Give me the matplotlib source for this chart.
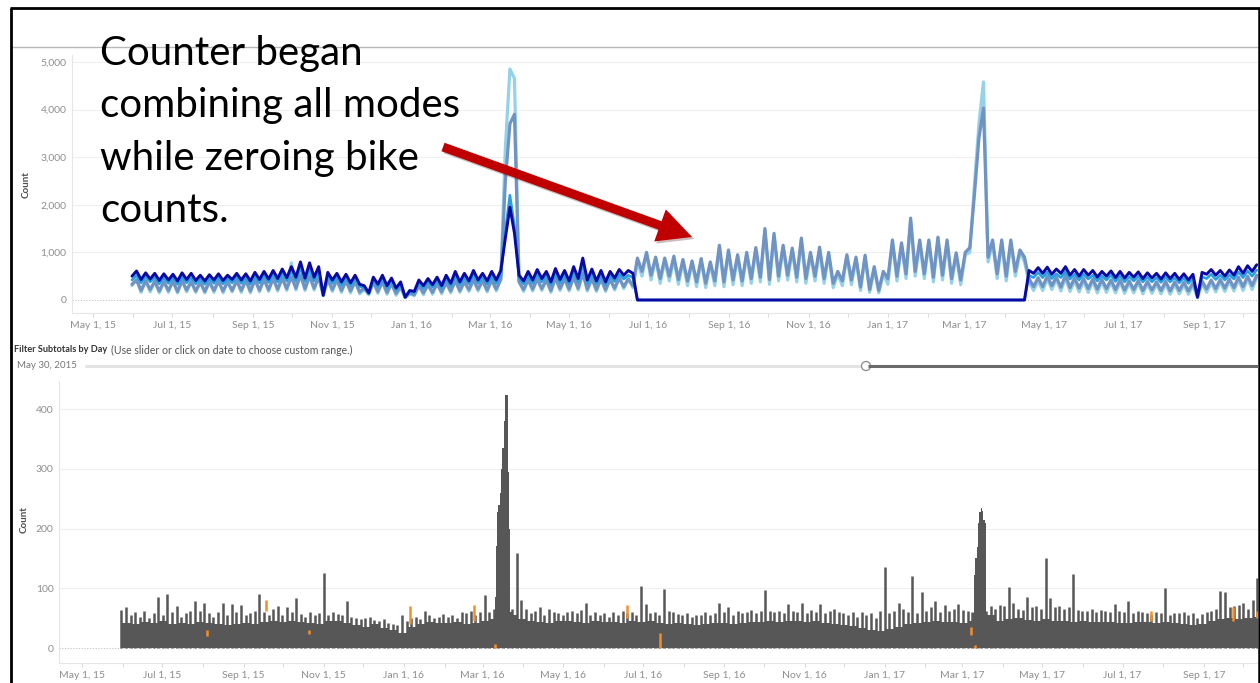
import pandas as pd
import matplotlib
matplotlib.use("Agg")
import matplotlib.pyplot as plt
import matplotlib.dates as mdates
import matplotlib.patheffects as pe
from matplotlib.patches import FancyArrow, Circle
from matplotlib.ticker import FuncFormatter

plt.rcParams["font.family"] = ["Lato", "DejaVu Sans"]

# ---------------------------------------------------------------------------
# Daily counter totals, sampled twice a week (Sunday 00:00 / Wednesday 12:00)
# starting 2015-05-31.
# ---------------------------------------------------------------------------
SAMPLE_START = "2015-05-31"

total_in = [
    300, 440, 160, 420, 170, 400, 150, 400,
    160, 420, 150, 430, 170, 400, 160, 390,
    150, 400, 160, 420, 150, 410, 170, 430,
    160, 440, 150, 450, 170, 460, 180, 470,
    190, 480, 200, 780, 210, 560, 200, 530,
    210, 500, 90, 450, 180, 440, 160, 420,
    150, 410, 130, 220, 110, 390, 140, 400,
    120, 360, 100, 260, 50, 130, 90, 320,
    110, 340, 120, 360, 130, 380, 150, 420,
    160, 400, 180, 440, 190, 420, 170, 440,
    190, 450, 3200, 4850, 4650, 400, 180, 440,
    190, 460, 200, 440, 160, 480, 200, 460,
    190, 500, 210, 580, 190, 470, 180, 460,
    180, 450, 210, 480, 240, 460, 260, 800,
    500, 980, 420, 870, 350, 820, 400, 860,
    330, 800, 300, 780, 280, 820, 260, 760,
    300, 1100, 280, 1000, 320, 900, 300, 950,
    350, 1050, 380, 1450, 330, 1350, 400, 1100,
    420, 1050, 380, 1250, 350, 950, 400, 1050,
    350, 950, 260, 550, 300, 900, 320, 850,
    200, 900, 160, 650, 150, 550, 330, 1200,
    400, 1150, 450, 1650, 500, 1200, 450, 1200,
    380, 1250, 420, 1200, 350, 950, 320, 950,
    1000, 2400, 3700, 4580, 800, 1200, 450, 1200,
    400, 1200, 500, 1000, 800, 380, 200, 400,
    200, 450, 220, 430, 190, 470, 180, 410,
    170, 400, 160, 390, 150, 380, 160, 370,
    150, 370, 140, 350, 150, 360, 130, 340,
    140, 330, 130, 340, 120, 330, 130, 320,
    120, 310, 50, 350, 160, 370, 170, 380,
    180, 390, 190, 430, 200, 450, 220, 470,
]

total_out = [
    330, 420, 200, 400, 220, 390, 190, 380,
    200, 390, 180, 400, 210, 380, 190, 370,
    180, 380, 200, 390, 190, 380, 200, 400,
    200, 410, 190, 420, 210, 430, 220, 450,
    230, 460, 240, 480, 250, 520, 240, 500,
    250, 480, 120, 430, 220, 420, 200, 400,
    190, 390, 170, 250, 140, 370, 180, 380,
    160, 340, 140, 280, 60, 150, 110, 300,
    150, 320, 160, 340, 170, 360, 190, 400,
    200, 380, 220, 420, 230, 400, 210, 420,
    230, 430, 2500, 3700, 3900, 380, 220, 420,
    230, 440, 240, 420, 200, 460, 240, 440,
    230, 480, 250, 560, 230, 450, 220, 440,
    220, 430, 250, 460, 280, 440, 300, 880,
    600, 1000, 520, 900, 450, 880, 500, 920,
    430, 850, 400, 820, 380, 870, 350, 800,
    400, 1150, 380, 1050, 420, 950, 400, 1000,
    450, 1100, 480, 1500, 430, 1400, 500, 1150,
    520, 1090, 480, 1300, 450, 1000, 500, 1110,
    450, 1000, 350, 600, 400, 950, 420, 900,
    270, 940, 220, 700, 200, 600, 450, 1260,
    500, 1200, 550, 1720, 600, 1260, 550, 1260,
    480, 1320, 520, 1260, 450, 990, 420, 1000,
    1100, 2200, 3400, 4030, 900, 1260, 550, 1260,
    500, 1260, 600, 1050, 900, 450, 280, 470,
    280, 500, 300, 480, 270, 520, 260, 460,
    250, 450, 240, 440, 230, 430, 240, 420,
    220, 420, 210, 400, 220, 410, 200, 390,
    210, 380, 200, 390, 190, 380, 200, 370,
    190, 360, 100, 400, 230, 420, 240, 430,
    250, 440, 260, 480, 280, 500, 300, 520,
]

bikes_out = [
    420, 520, 360, 500, 380, 480, 340, 470,
    350, 470, 330, 480, 360, 470, 340, 450,
    330, 450, 350, 470, 340, 450, 360, 480,
    350, 470, 330, 500, 360, 520, 370, 540,
    380, 560, 400, 600, 400, 680, 390, 650,
    400, 600, 90, 500, 350, 480, 310, 460,
    300, 440, 280, 260, 130, 400, 280, 440,
    250, 390, 210, 320, 50, 170, 150, 360,
    250, 380, 270, 400, 250, 440, 290, 500,
    320, 470, 340, 520, 350, 470, 330, 500,
    350, 520, 1450, 2200, 1550, 450, 340, 500,
    350, 540, 380, 510, 320, 560, 360, 520,
    340, 590, 380, 740, 350, 550, 340, 520,
    320, 510, 390, 540, 440, 520, 470, 0,
    0, 0, 0, 0, 0, 0, 0, 0,
    0, 0, 0, 0, 0, 0, 0, 0,
    0, 0, 0, 0, 0, 0, 0, 0,
    0, 0, 0, 0, 0, 0, 0, 0,
    0, 0, 0, 0, 0, 0, 0, 0,
    0, 0, 0, 0, 0, 0, 0, 0,
    0, 0, 0, 0, 0, 0, 0, 0,
    0, 0, 0, 0, 0, 0, 0, 0,
    0, 0, 0, 0, 0, 0, 0, 0,
    0, 0, 0, 0, 0, 0, 0, 0,
    0, 0, 0, 0, 0, 520, 470, 580,
    470, 590, 450, 550, 470, 600, 440, 540,
    420, 540, 440, 520, 400, 510, 420, 520,
    390, 510, 380, 490, 400, 500, 380, 480,
    380, 470, 370, 480, 380, 470, 360, 460,
    350, 450, 50, 490, 450, 540, 430, 520,
    420, 530, 440, 590, 470, 610, 500, 630,
]

bikes_in = [
    500, 610, 430, 570, 440, 560, 410, 550,
    420, 540, 400, 570, 430, 560, 410, 520,
    400, 530, 420, 550, 410, 520, 430, 560,
    420, 550, 400, 580, 430, 600, 440, 620,
    450, 650, 470, 700, 480, 800, 460, 780,
    480, 700, 100, 580, 420, 560, 380, 540,
    360, 520, 330, 300, 150, 480, 330, 520,
    300, 460, 250, 380, 60, 200, 180, 420,
    300, 450, 320, 480, 300, 520, 350, 600,
    380, 560, 400, 620, 420, 560, 400, 600,
    420, 620, 1300, 1950, 1400, 520, 400, 600,
    420, 640, 450, 600, 380, 660, 430, 620,
    400, 700, 450, 880, 420, 650, 400, 620,
    380, 600, 460, 640, 520, 620, 560, 0,
    0, 0, 0, 0, 0, 0, 0, 0,
    0, 0, 0, 0, 0, 0, 0, 0,
    0, 0, 0, 0, 0, 0, 0, 0,
    0, 0, 0, 0, 0, 0, 0, 0,
    0, 0, 0, 0, 0, 0, 0, 0,
    0, 0, 0, 0, 0, 0, 0, 0,
    0, 0, 0, 0, 0, 0, 0, 0,
    0, 0, 0, 0, 0, 0, 0, 0,
    0, 0, 0, 0, 0, 0, 0, 0,
    0, 0, 0, 0, 0, 0, 0, 0,
    0, 0, 0, 0, 0, 620, 560, 680,
    560, 690, 540, 650, 560, 700, 520, 640,
    500, 640, 520, 620, 480, 600, 500, 610,
    470, 600, 460, 580, 480, 590, 450, 570,
    460, 560, 440, 570, 450, 560, 430, 550,
    420, 540, 60, 580, 540, 640, 520, 620,
    500, 630, 520, 700, 560, 720, 600, 740,
]

# Hourly counts: highest hour of the sampled day (same twice-weekly grid)
hourly_peak = [
    63, 68, 55, 60, 52, 62, 50, 58,
    85, 55, 90, 60, 70, 52, 58, 62,
    78, 62, 75, 58, 52, 60, 76, 55,
    73, 60, 72, 55, 58, 62, 90, 60,
    56, 65, 70, 55, 68, 60, 84, 57,
    52, 60, 55, 58, 125, 55, 60, 57,
    55, 78, 52, 50, 48, 50, 52, 47,
    45, 48, 42, 40, 38, 55, 45, 50,
    52, 48, 62, 55, 50, 52, 57, 52,
    55, 50, 60, 58, 62, 55, 60, 89,
    60, 65, 70, 80, 70, 65, 159, 80,
    65, 58, 62, 68, 55, 65, 60, 58,
    55, 60, 62, 58, 64, 75, 56, 60,
    55, 58, 52, 60, 56, 62, 58, 60,
    55, 104, 73, 58, 60, 55, 99, 62,
    60, 57, 55, 58, 52, 55, 56, 60,
    55, 58, 75, 60, 68, 56, 62, 58,
    60, 64, 58, 62, 97, 62, 60, 62,
    58, 73, 62, 60, 75, 58, 64, 60,
    73, 58, 62, 65, 60, 58, 55, 60,
    52, 60, 56, 58, 50, 62, 136, 58,
    62, 75, 65, 60, 120, 58, 93, 62,
    68, 78, 60, 72, 62, 66, 73, 64,
    62, 60, 70, 65, 62, 70, 66, 72,
    70, 102, 75, 66, 64, 85, 68, 70,
    65, 151, 83, 68, 70, 66, 68, 124,
    64, 62, 62, 65, 60, 64, 62, 60,
    73, 62, 60, 78, 58, 62, 60, 58,
    56, 60, 58, 100, 55, 58, 58, 60,
    56, 58, 50, 57, 60, 62, 66, 95,
    93, 68, 70, 72, 76, 66, 80, 118,
]

# Typical daily hourly high, one value per week from 2015-05-31
hourly_level = [
    42, 40, 44, 42, 45, 40, 42, 40, 43, 42, 40, 38, 40, 42, 40, 44,
    45, 43, 45, 44, 42, 40, 45, 46, 42, 38, 35, 40, 33, 30, 25, 35,
    40, 44, 42, 42, 44, 40, 42, 45, 48, 50, 55, 48, 45, 44, 42, 45,
    46, 44, 42, 45, 43, 44, 42, 45, 44, 45, 42, 40, 42, 40, 38, 40,
    42, 42, 40, 42, 44, 43, 45, 44, 46, 45, 44, 45, 42, 40, 38, 36,
    34, 30, 28, 32, 35, 40, 42, 44, 45, 43, 44, 42, 45, 48, 55, 46,
    48, 50, 47, 46, 48, 46, 45, 44, 45, 44, 43, 44, 42, 42, 44, 43,
    42, 44, 42, 40, 38, 40, 46, 48, 50, 48, 50, 52,
]

# Daily hourly highs during the two March surges
surge16_start = "2016-03-10"
surge16 = [85, 170, 228, 240, 259, 300, 335, 380, 423, 423, 295, 200, 60]
surge17_start = "2017-03-09"
surge17 = [58, 122, 150, 169, 209, 228, 234, 230, 214, 209, 52]

# Highlighted (second category) hourly readings
flag_dates = ["2015-08-04", "2015-09-18", "2015-10-21", "2016-01-06", "2016-02-23",
              "2016-03-10", "2016-06-19", "2016-07-14", "2017-03-08", "2017-03-11",
              "2017-07-23", "2017-09-23", "2017-10-11"]
flag_low = [20, 62, 24, 40, 45, 0, 50, 0, 22, 0, 45, 45, 50]
flag_high = [30, 80, 30, 70, 72, 6, 72, 25, 35, 5, 62, 68, 62]

y_top_ticks = [0, 1000, 2000, 3000, 4000, 5000]
y_bottom_ticks = [0, 100, 200, 300, 400]

note_lines = ["Counter began", "combining all modes", "while zeroing bike", "counts."]

# ---------------------------------------------------------------------------
W, H = 1260, 683
fig = plt.figure(figsize=(W / 100, H / 100), dpi=100)
fig.patch.set_facecolor("white")


def box(left, top, right, bottom):
    return [left / W, 1 - bottom / H, (right - left) / W, (bottom - top) / H]


day0 = mdates.date2num(pd.Timestamp("2015-05-01"))
ax1 = fig.add_axes(box(72, 55, 1258, 313))
ax2 = fig.add_axes(box(59, 381, 1258, 663))
ax1.set_xlim(day0 - 16.1, day0 + 895.5)
ax2.set_xlim(day0 - 17.5, day0 + 895.1)
ax1.set_ylim(-273, 5145)
ax2.set_ylim(-25.1, 446.9)

TICK_GRAY = "#8e8e8e"


def date_label(v, pos):
    d = mdates.num2date(v)
    return f"{d:%b} {d.day}, {d:%y}"


for ax, yticks in ((ax1, y_top_ticks), (ax2, y_bottom_ticks)):
    ax.xaxis.set_major_locator(mdates.MonthLocator(bymonth=(1, 3, 5, 7, 9, 11)))
    ax.xaxis.set_minor_locator(mdates.MonthLocator())
    ax.xaxis.set_major_formatter(FuncFormatter(date_label))
    ax.set_yticks(yticks)
    ax.yaxis.set_major_formatter(FuncFormatter(lambda v, p: f"{int(v):,}"))
    for s in ("top", "right"):
        ax.spines[s].set_visible(False)
    for s in ("left", "bottom"):
        ax.spines[s].set_color("#e6e6e6")
        ax.spines[s].set_linewidth(0.8)
    ax.tick_params(axis="x", which="both", length=3, width=0.7, color="#dadada",
                   labelsize=7.5, labelcolor=TICK_GRAY, pad=2.5)
    ax.tick_params(axis="y", length=0, labelsize=7.5, labelcolor=TICK_GRAY, pad=4)
    for v in yticks:
        if v:
            ax.axhline(v, color="#efefef", lw=0.8, zorder=0)
    ax.axhline(0, color="#c2c2c2", lw=0.8, ls=(0, (1, 1.5)), zorder=0)

# ---- top: daily counts by direction ----
t_daily = pd.date_range(SAMPLE_START, periods=len(bikes_in), freq="84h")
line_kw = dict(solid_joinstyle="round", solid_capstyle="round")
ax1.plot(t_daily, total_in, color="#93d2e8", lw=2.3, zorder=2, **line_kw)
ax1.plot(t_daily, total_out, color="#7193c4", lw=2.3, zorder=3, **line_kw)
ax1.plot(t_daily, bikes_out, color="#27a0e2", lw=1.9, zorder=4, **line_kw)
ax1.plot(t_daily, bikes_in, color="#0a0aa3", lw=2.1, zorder=5, **line_kw)

# ---- bottom: hourly counts ----
GRAY = "#575757"
level_edges = pd.date_range(SAMPLE_START, periods=len(hourly_level) + 1, freq="7D")
ax2.stairs(hourly_level, mdates.date2num(level_edges), fill=True, color=GRAY, lw=0, zorder=2)
ax2.vlines(t_daily, 0, hourly_peak, color=GRAY, lw=1.8, zorder=2)
for start, vals in ((surge16_start, surge16), (surge17_start, surge17)):
    edges = pd.date_range(start, periods=len(vals) + 1, freq="D")
    ax2.stairs(vals, mdates.date2num(edges), fill=True, color=GRAY, lw=0, zorder=2)
ax2.vlines(pd.to_datetime(flag_dates), flag_low, flag_high, color="#f28e2b", lw=1.8, zorder=3)

# ---- dashboard furniture and note ----
ov = fig.add_axes([0, 0, 1, 1], zorder=10)
ov.set_xlim(0, W)
ov.set_ylim(H, 0)
ov.axis("off")
ov.patch.set_alpha(0)

ov.plot([12, 1258], [47, 47], color="#b8b8b8", lw=1.0)
ov.plot([11, 11], [7.5, H], color="black", lw=2.0, solid_capstyle="butt")
ov.plot([10, W], [8, 8], color="black", lw=2.0, solid_capstyle="butt")
ov.plot([1258.8, 1258.8], [7.5, H], color="black", lw=1.8, solid_capstyle="butt")

fig.text(26 / W, 1 - 185 / H, "Count", rotation=90, ha="center", va="center",
         fontsize=7, fontweight="bold", color="#4d4d4d")
fig.text(24 / W, 1 - 520 / H, "Count", rotation=90, ha="center", va="center",
         fontsize=7, fontweight="bold", color="#4d4d4d")

title = ov.text(14, 350, "Filter Subtotals by Day", ha="left", va="center",
                fontsize=6.6, fontweight="bold", color="#333333")
ov.annotate("(Use slider or click on date to choose custom range.)", xy=(1, 0.5),
            xycoords=title, xytext=(3, 0), textcoords="offset points",
            ha="left", va="center", fontsize=7.6, color="#555555")
ov.text(17, 366, "May 30, 2015", ha="left", va="center", fontsize=7, color="#777777")
ov.plot([85, 862], [366, 366], color="#e3e3e3", lw=2.2, solid_capstyle="butt")
ov.add_patch(Circle((866, 366), 4.5, facecolor="white", edgecolor="#8a8a8a", lw=0.9, zorder=3))
ov.plot([868, 1258], [366, 366], color="#6a6a6a", lw=2.2, solid_capstyle="butt", zorder=4)

for i, line in enumerate(note_lines):
    ov.text(100, 65 + 52.3 * i, line, ha="left", va="baseline", fontsize=29, color="black")

arrow = FancyArrow(443, 147, 249, 90, width=9, head_width=34, head_length=34,
                   length_includes_head=True, facecolor="#c00000", edgecolor="none")
arrow.set_path_effects([pe.withSimplePatchShadow(offset=(1.5, -1.5),
                                                 shadow_rgbFace="#5a2020", alpha=0.3)])
ov.add_patch(arrow)

fig.savefig("out.png", dpi=100, facecolor="white")
